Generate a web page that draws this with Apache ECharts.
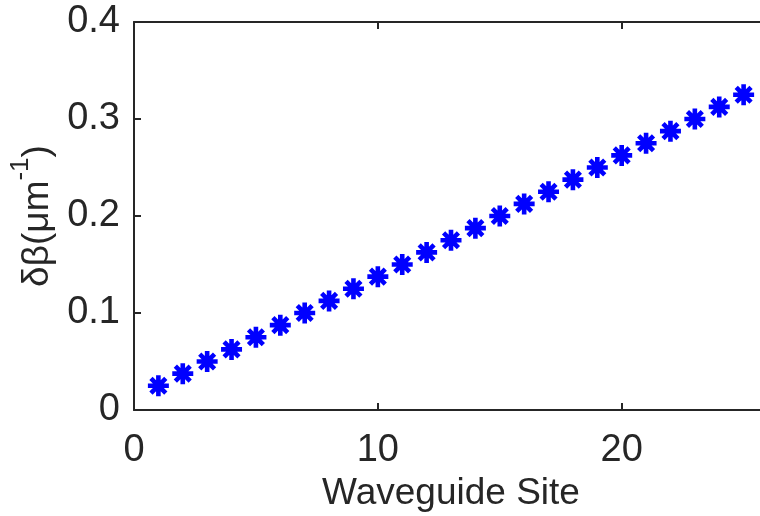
<!DOCTYPE html>
<html>
<head>
<meta charset="utf-8">
<script src="https://cdn.jsdelivr.net/npm/echarts@6/dist/echarts.min.js"></script>
<style>
  html, body { margin: 0; padding: 0; background: #fff; }
  #main { width: 760px; height: 516px; }
</style>
</head>
<body>
<div id="main"></div>
<script>
var sites = [1, 2, 3, 4, 5, 6, 7, 8, 9, 10, 11, 12, 13, 14, 15, 16, 17, 18, 19, 20, 21, 22, 23, 24, 25];
var deltaBeta = [0.025, 0.0375, 0.05, 0.0625, 0.075, 0.0875, 0.1, 0.1125, 0.125, 0.1375,
                 0.15, 0.1625, 0.175, 0.1875, 0.2, 0.2125, 0.225, 0.2375, 0.25, 0.2625,
                 0.275, 0.2875, 0.3, 0.3125, 0.325];
var xTicks = [0, 10, 20];
var yTicks = [0, 0.1, 0.2, 0.3, 0.4];

// 8-arm asterisk like the matlab '*' marker
var star = 'path://M0 39L100 39L100 61L0 61Z' +
  'M39 0L61 0L61 100L39 100Z' +
  'M22.4 6.9L93.1 77.6L77.6 93.1L6.9 22.4Z' +
  'M6.9 77.6L77.6 6.9L93.1 22.4L22.4 93.1Z';

var axisCol = '#262626';
var fontFam = '"Liberation Sans", Arial, Helvetica, sans-serif';

var myChart = echarts.init(document.getElementById('main'));
var option = {
  animation: false,
  backgroundColor: '#fff',
  grid: { left: 134, top: 22, height: 388, width: 634, outerBoundsMode: 'none', containLabel: false },
  xAxis: [{
    type: 'value',
    min: 0, max: 26, interval: 10,
    name: 'Waveguide Site',
    nameLocation: 'middle',
    nameGap: 63,
    nameTextStyle: { fontSize: 37, color: axisCol, fontFamily: fontFam },
    axisLine: { show: true, onZero: false, lineStyle: { color: axisCol, width: 2 } },
    axisTick: { show: true, inside: true, length: 7, lineStyle: { color: axisCol, width: 2 } },
    axisLabel: {
      fontSize: 38, color: axisCol, fontFamily: fontFam, margin: 22,
      formatter: function (v) { return xTicks.indexOf(v) >= 0 ? String(v) : ''; }
    },
    splitLine: { show: false }
  }, {
    type: 'value', position: 'top',
    min: 0, max: 26, interval: 10,
    axisLine: { show: true, onZero: false, lineStyle: { color: axisCol, width: 2 } },
    axisTick: { show: true, inside: true, length: 7, lineStyle: { color: axisCol, width: 2 } },
    axisLabel: { show: false },
    splitLine: { show: false }
  }],
  yAxis: {
    type: 'value',
    min: 0, max: 0.4, interval: 0.1,
    name: '{a|δβ(μm}{s|-1}{a|)}',
    nameLocation: 'middle',
    nameGap: 76,
    nameRotate: 90,
    nameTextStyle: {
      color: axisCol, fontFamily: fontFam,
      rich: {
        a: { fontSize: 37, color: axisCol, fontFamily: fontFam, verticalAlign: 'bottom' },
        s: { fontSize: 26, color: axisCol, fontFamily: fontFam, verticalAlign: 'top', padding: [0, 0, 22, 0] }
      }
    },
    axisLine: { show: true, onZero: false, lineStyle: { color: axisCol, width: 2 } },
    axisTick: { show: true, inside: true, length: 7, lineStyle: { color: axisCol, width: 2 } },
    axisLabel: {
      fontSize: 38, color: axisCol, fontFamily: fontFam, margin: 14,
      formatter: function (v) { return String(Math.round(v * 10) / 10); }
    },
    splitLine: { show: false }
  },
  series: [{
    type: 'scatter',
    symbol: star,
    symbolSize: 21,
    itemStyle: { color: '#0000ff', opacity: 1 },
    data: sites.map(function (s, i) { return [s, deltaBeta[i]]; })
  }]
};
myChart.setOption(option);
</script>
</body>
</html>
